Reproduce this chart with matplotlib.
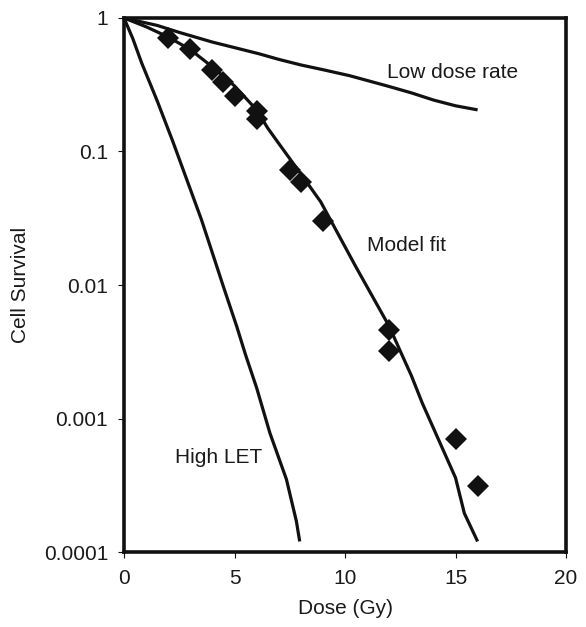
import matplotlib.pyplot as plt

plt.rcParams['font.family'] = ['Liberation Sans', 'DejaVu Sans']

# measured survival (diamonds)
dose_data = [2, 3, 4, 4.5, 5, 6, 6, 7.5, 8, 9, 12, 12, 15, 16]
surv_data = [0.71, 0.59, 0.41, 0.33, 0.26, 0.20, 0.175, 0.073, 0.059, 0.030,
             0.0046, 0.0032, 0.0007, 0.00031]

# fitted curve through the data
dose_fit = [0, 1, 2, 3, 4, 5, 6, 6.5, 7, 8, 8.9, 10.5, 12, 12.5, 13, 13.5, 15, 15.4, 16]
surv_fit = [1, 0.86, 0.72, 0.58, 0.43, 0.31, 0.205, 0.15, 0.115, 0.068, 0.042,
            0.0136, 0.0049, 0.0032, 0.0021, 0.0013, 0.00036, 0.000195, 0.00012]

# low dose rate curve
dose_low = [0, 1.5, 2.5, 4.0, 5.0, 6.1, 7.0, 8.0, 9.0, 10.2, 11.9, 13.0, 14.0, 15.0, 16.0]
surv_low = [1, 0.88, 0.78, 0.66, 0.60, 0.54, 0.49, 0.445, 0.41, 0.37, 0.31, 0.275,
            0.243, 0.22, 0.205]

# high LET curve
dose_let = [0, 0.4, 0.8, 1.5, 2.2, 2.85, 3.5, 3.9, 4.5, 5.1, 5.5, 6.0, 6.6, 7.35, 7.8, 7.95]
surv_let = [1, 0.70, 0.46, 0.24, 0.12, 0.061, 0.031, 0.0195, 0.0097, 0.0049, 0.0030,
            0.0017, 0.00078, 0.00035, 0.00017, 0.00012]

yticks = [1, 0.1, 0.01, 0.001, 0.0001]
ytick_labels = ['1', '0.1', '0.01', '0.001', '0.0001']
xticks = [0, 5, 10, 15, 20]

ink = '#111111'
txt = '#1a1a1a'
fs = 15

fig = plt.figure(figsize=(5.86, 6.27), dpi=100)
ax = fig.add_axes([0.2116, 0.1196, 0.7543, 0.8517])

ax.plot(dose_low, surv_low, color=ink, lw=2.3, solid_capstyle='butt')
ax.plot(dose_fit, surv_fit, color=ink, lw=2.3, solid_capstyle='butt')
ax.plot(dose_let, surv_let, color=ink, lw=2.3, solid_capstyle='butt')
ax.plot(dose_data, surv_data, 'D', color=ink, ms=11, mew=0, ls='none')

ax.set_yscale('log')
ax.set_xlim(0, 20)
ax.set_ylim(0.0001, 1)
ax.set_yticks(yticks)
ax.set_yticklabels(ytick_labels)
ax.minorticks_off()
ax.set_xticks(xticks)

ax.tick_params(direction='out', length=4.5, width=0.8, colors=ink,
               labelsize=fs, labelcolor=txt)
ax.tick_params(axis='y', pad=7)
ax.tick_params(axis='x', pad=8)
for s in ax.spines.values():
    s.set_linewidth(2.6)
    s.set_color(ink)

ax.set_xlabel('Dose (Gy)', fontsize=fs, color=txt, labelpad=8)
ax.set_ylabel('Cell Survival', fontsize=fs, color=txt, labelpad=10)

ax.text(11.9, 0.39, 'Low dose rate', fontsize=fs, color=txt, va='center')
ax.text(11.0, 0.0196, 'Model fit', fontsize=fs, color=txt, va='center')
ax.text(2.3, 0.00051, 'High LET', fontsize=fs, color=txt, va='center')

fig.savefig('out.png', dpi=100)
